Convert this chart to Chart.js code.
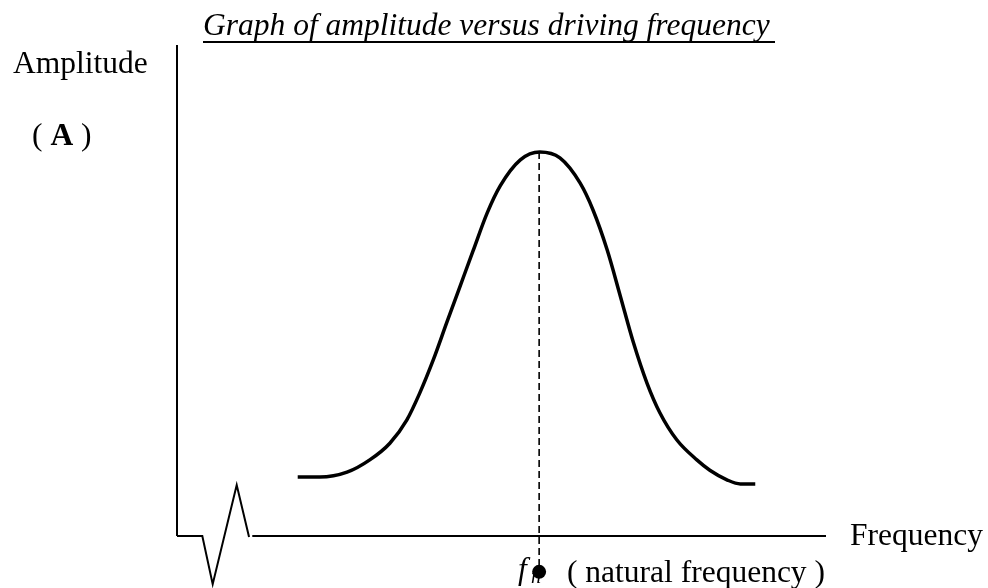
<!DOCTYPE html>
<html>
<head>
<meta charset="utf-8">
<script src="https://cdn.jsdelivr.net/npm/chart.js@4.4.1/dist/chart.umd.min.js"></script>
<style>
  html, body { margin: 0; padding: 0; background: #fff; }
  #wrap { position: relative; width: 988px; height: 588px; overflow: hidden; }
  #chart { position: absolute; left: 0; top: 0; }
  .lbl { position: absolute; font-family: 'Liberation Serif', 'Times New Roman', serif; font-size: 31.5px; line-height: 31.5px; color: #000; white-space: nowrap; }
  #title { left: 203px; top: 8.6px; font-style: italic; }
  #title-ul { position: absolute; left: 203px; top: 41px; width: 572px; height: 2px; background: #000; }
</style>
</head>
<body>
<div id="wrap">
  <canvas id="chart" width="988" height="588"></canvas>
  <div class="lbl" id="title">Graph of amplitude versus driving frequency</div>
  <div id="title-ul"></div>
  <div class="lbl" style="left:13px; top:46.6px;">Amplitude</div>
  <div class="lbl" style="left:32px; top:118.6px;">( <b>A</b> )</div>
  <div class="lbl" style="left:850px; top:518.6px;">Frequency</div>
  <div class="lbl" style="left:518px; top:552.6px;"><i>f</i></div>
  <div class="lbl" style="left:531px; top:566px; font-size:20px; line-height:20px;"><i>n</i></div>
  <div class="lbl" style="left:567px; top:555.6px;">( natural frequency )</div>
</div>
<script>
  // ===== Data (arbitrary units, 0-100 on both axes) =====
  const freq = [18.6, 22.0, 26.2, 29.7, 32.8, 35.4, 37.4, 39.5, 41.6, 43.6, 45.6, 47.8, 49.8, 52.9, 55.9,
                59.0, 62.1, 64.1, 66.3, 68.3, 70.3, 72.4, 74.4, 77.0, 80.1, 82.1, 84.8, 86.8, 89.1];
  const amplitude = [12.0, 12.0, 13.0, 15.5, 18.9, 23.6, 29.1, 35.9, 43.6, 50.8, 58.0, 65.8, 71.3, 76.6, 78.2,
                     77.0, 71.9, 66.4, 58.2, 48.9, 39.5, 31.2, 25.1, 19.6, 15.5, 13.4, 11.4, 10.6, 10.6];

  // natural frequency marker (dashed line from peak down to the dot)
  const naturalFreq = 55.8;
  const markerY = [78.2, -7.3];

  // axes (with the broken x axis near the origin)
  const xAxisBreakX = [0, 3.9, 5.5, 9.2, 11.1];
  const xAxisBreakY = [0, 0, -9.8, 10.4, -0.2];
  const xAxisRestX = [11.6, 100];
  const xAxisRestY = [0, 0];
  const yAxisX = [0, 0];
  const yAxisY = [0, 100];

  const pts = (xs, ys) => xs.map((x, i) => ({ x, y: ys[i] }));

  new Chart(document.getElementById('chart'), {
    type: 'line',
    data: {
      datasets: [
        { data: pts(freq, amplitude), borderColor: '#000', borderWidth: 3.5, pointRadius: 0,
          cubicInterpolationMode: 'monotone', fill: false },
        { data: markerY.map(y => ({ x: naturalFreq, y })), borderColor: '#000', borderWidth: 1.6, borderDash: [7, 4],
          pointRadius: [0, 7], pointBackgroundColor: '#000', pointBorderWidth: 0, clip: false },
        { data: pts(xAxisBreakX, xAxisBreakY), borderColor: '#000', borderWidth: 2, pointRadius: 0, tension: 0, clip: false },
        { data: pts(xAxisRestX, xAxisRestY), borderColor: '#000', borderWidth: 2, pointRadius: 0, clip: false },
        { data: pts(yAxisX, yAxisY), borderColor: '#000', borderWidth: 2, pointRadius: 0, clip: false }
      ]
    },
    options: {
      responsive: false,
      animation: false,
      devicePixelRatio: 1,
      // y runs from -10 to 100 so that 0 sits at the axis line and the marker dot stays inside the area
      layout: { autoPadding: false, padding: { left: 177, right: 162, top: 45, bottom: 2.9 } },
      plugins: { legend: { display: false }, tooltip: { enabled: false }, title: { display: false } },
      scales: {
        x: { type: 'linear', min: 0, max: 100, display: false },
        y: { type: 'linear', min: -10, max: 100, display: false }
      }
    }
  });
</script>
</body>
</html>
